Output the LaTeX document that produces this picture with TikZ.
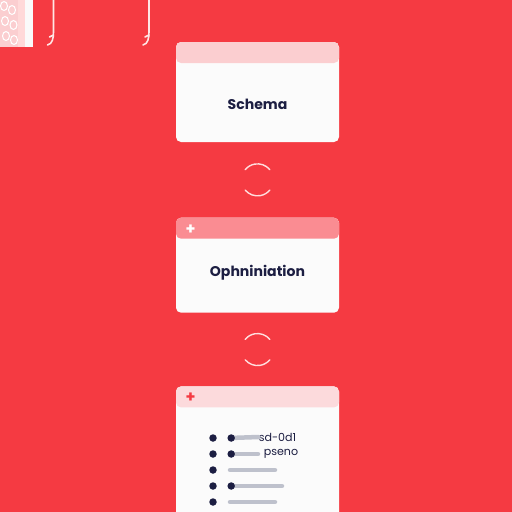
\documentclass[tikz,border=0pt]{standalone}
\usepackage{fontspec}
\setmainfont{Poppins}
\usetikzlibrary{positioning,calc}

\definecolor{bgred}{RGB}{245,58,66}
\definecolor{navy}{RGB}{28,30,66}
\definecolor{hdrfaint}{RGB}{251,206,208}
\definecolor{hdrpink}{RGB}{250,140,146}
\definecolor{hdrlight}{RGB}{252,218,220}
\definecolor{linkpink}{RGB}{255,222,222}
\definecolor{barblue}{RGB}{190,193,204}

\tikzset{
  card/.style={draw=none, fill=white!97!gray, rounded corners=0.1cm,
    minimum width=3.26cm, inner sep=0pt,
    path picture={\fill[#1] (path picture bounding box.north west)
      rectangle ([yshift=-0.42cm]path picture bounding box.north east);}},
  cardtxt/.style={text=navy, font=\bfseries\fontsize{8}{10}\selectfont},
  link/.style={draw=linkpink, line width=0.8pt, line cap=round},
  dot/.style={circle, fill=navy, inner sep=0pt, minimum size=0.15cm},
  bar/.style={draw=barblue, line width=0.09cm, line cap=round},
  itemtxt/.style={text=navy, font=\fontsize{6.3}{8}\selectfont, inner sep=0pt},
  hook/.style={draw=white!90!red, line width=0.9pt, line cap=round},
}

\begin{document}
\begin{tikzpicture}
        \useasboundingbox (0,0) rectangle (10.24,-10.24);
        \clip (0,0) rectangle (10.24,-10.24);
        \fill[bgred] (0,0) rectangle (10.24,-10.24); %
        %
        % corner decoration
        \fill[hdrfaint] (0,0) rectangle (0.36,-0.94); %
        \foreach \px/\py in {0.08/-0.12, 0.24/-0.2, 0.1/-0.42, 0.27/-0.5, 0.12/-0.72, 0.28/-0.8} {
          \draw[white, line width=0.6pt] (\px,\py) ellipse (0.07 and 0.09);
        }
        \fill[white!85!red] (0.36,0) rectangle (0.5,-0.94); %
        \fill[white!96!gray] (0.5,0) rectangle (0.66,-0.94); %
        \coordinate (hook_a) at (1.07,0);
        \coordinate (hook_b) at (2.98,0);
        \draw[hook] (hook_a) -- ++(0,-0.64) .. controls ++(0,-0.12) and ++(0.1,0.02) .. ++(-0.12,-0.26); %
        \draw[hook] ([yshift=-0.7cm]hook_a) -- ++(-0.08,-0.04); %
        \draw[hook] (hook_b) -- ++(0,-0.64) .. controls ++(0,-0.12) and ++(0.1,0.02) .. ++(-0.12,-0.26); %
        \draw[hook] ([yshift=-0.7cm]hook_b) -- ++(-0.08,-0.04); %
        %
        % cards
        \node[card=hdrfaint, minimum height=2.0cm] (schema) at (5.15,-1.84) {}; %
        \node[card=hdrpink, minimum height=1.9cm, below = 1.5cm of schema] (optim) {}; %
        \node[card=hdrlight, minimum height=2.9cm, below = 1.46cm of optim] (output) {}; %
        \node[cardtxt] (schema_txt) at ([yshift=-0.24cm]schema.center) {Schema}; %
        \node[cardtxt] (optim_txt) at ([yshift=-0.15cm]optim.center) {Ophniniation}; %
        \node[font=\bfseries\small, text=white, inner sep=0pt] (optim_plus) at ([xshift=0.3cm,yshift=-0.24cm]optim.north west) {+}; %
        \node[font=\bfseries\small, text=bgred, inner sep=0pt] (output_plus) at ([xshift=0.3cm,yshift=-0.24cm]output.north west) {+}; %
        %
        % links between cards
        \coordinate (link_a) at ($(schema.south)!0.5!(optim.north)$); %
        \coordinate (link_b) at ($(optim.south)!0.5!(output.north)$); %
        \draw[link] ([shift={(40:0.32)}]link_a) arc (40:140:0.32); %
        \draw[link] ([shift={(220:0.32)}]link_a) arc (220:320:0.32); %
        \draw[link] ([shift={(40:0.32)}]link_b) arc (40:140:0.32); %
        \draw[link] ([shift={(220:0.32)}]link_b) arc (220:320:0.32); %
        %
        % list in the last card
        \foreach \i/\y in {1/-8.76, 2/-9.08, 3/-9.40, 4/-9.72, 5/-10.04} {
          \coordinate (row_\i) at (4.26,\y);
        }
        \node[itemtxt, anchor=west] (item_1) at (5.17,-8.74) {sd-0d1}; %
        \node[itemtxt, anchor=west] (item_2) at (5.27,-9.08) {pseno}; %
        \draw[bar] ([xshift=0.34cm]row_1) -- (item_1.west); %
        \draw[bar] ([xshift=0.34cm]row_2) -- ++(0.56,0); %
        \draw[bar] ([xshift=0.34cm]row_3) -- ++(0.9,0); %
        \draw[bar] ([xshift=0.34cm]row_4) -- ++(1.04,0); %
        \draw[bar] ([xshift=0.34cm]row_5) -- ++(0.9,0); %
        \foreach \i in {1,...,5} {
          \node[dot] (dot_\i) at (row_\i) {};
        }
        \node[dot, right = 0.2cm of dot_1] (sub_1) {}; %
        \node[dot, right = 0.2cm of dot_2] (sub_2) {}; %
        \node[dot, right = 0.2cm of dot_4] (sub_4) {}; %
\end{tikzpicture}
\end{document}
